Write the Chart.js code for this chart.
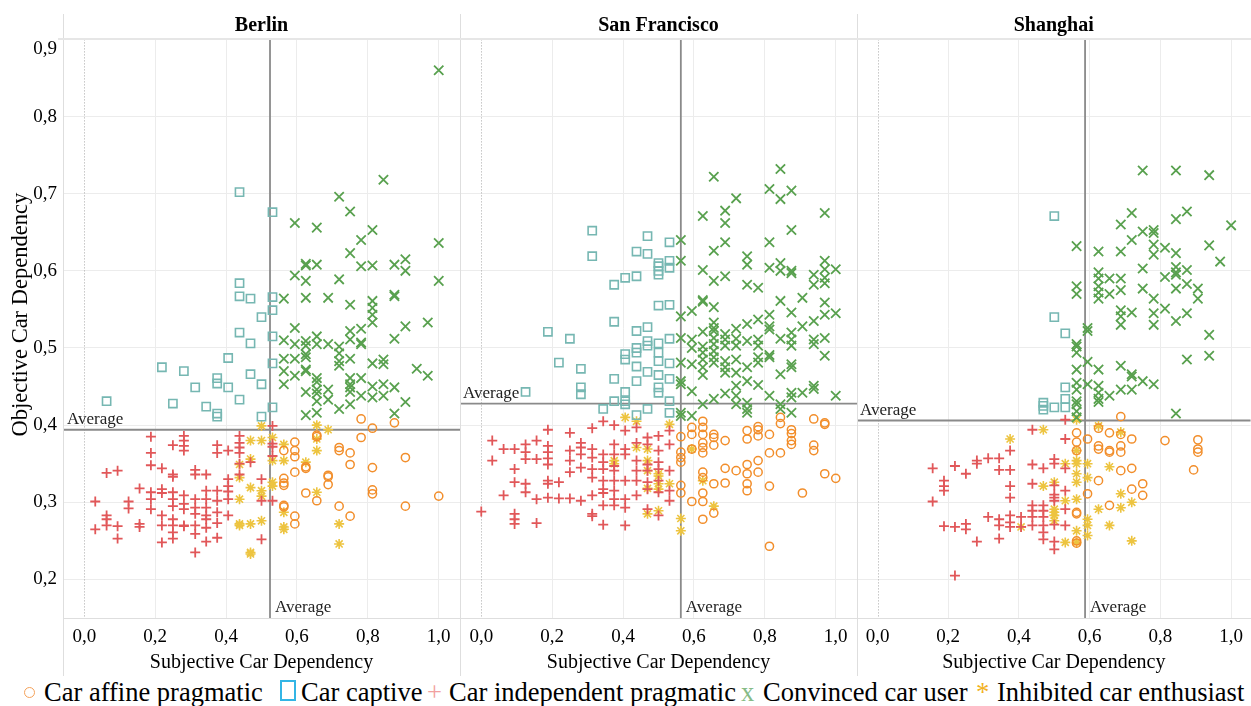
<!DOCTYPE html>
<html><head><meta charset="utf-8">
<script src="https://cdn.jsdelivr.net/npm/chart.js@4.4.1/dist/chart.umd.min.js"></script>
<style>
html,body{margin:0;padding:0;background:#fff;}
#wrap{position:relative;width:1251px;height:706px;overflow:hidden;font-family:"Liberation Serif","Times New Roman",serif;}
canvas{position:absolute;top:0;}
.vl{position:absolute;width:1px;background:#dedede;}
.hl{position:absolute;height:1px;background:#dedede;}
.lg{position:absolute;top:679px;font-size:26.5px;line-height:26px;white-space:nowrap;color:#000;}
.sym{position:absolute;}
</style></head>
<body>
<div id="wrap">
  <canvas id="c0" width="460" height="676" style="left:0px"></canvas>
  <canvas id="c1" width="397" height="676" style="left:460px"></canvas>
  <canvas id="c2" width="394" height="676" style="left:857px"></canvas>
  <div class="vl" style="left:63px;top:14px;height:662px"></div>
  <div class="vl" style="left:460px;top:14px;height:662px"></div>
  <div class="vl" style="left:857px;top:14px;height:662px"></div>
  <div class="hl" style="left:58px;top:38px;width:1193px;height:2px;background:#e6e6e6"></div>
  <div class="hl" style="left:63px;top:618px;width:1188px"></div>
  <div class="sym" style="left:24px;top:687px;width:9px;height:9px;border:1.2px solid #f5a25a;border-radius:50%"></div>
  <span class="lg" style="left:44px">Car affine pragmatic</span>
  <div class="sym" style="left:280px;top:680px;width:12px;height:17px;border:2px solid #33b5e5"></div>
  <span class="lg" style="left:301px">Car captive</span>
  <span class="lg" style="left:427px;color:#f2a0a0">+</span>
  <span class="lg" style="left:449px">Car independent pragmatic</span>
  <span class="lg" style="left:741px;color:#86bb86">x</span>
  <span class="lg" style="left:763px">Convinced car user</span>
  <span class="lg" style="left:976px;color:#f2b21e">*</span>
  <span class="lg" style="left:997px">Inhibited car enthusiast</span>
</div>
<script>
// ---------- data (x = subjective, y = objective) ----------
const cities = ['Berlin', 'San Francisco', 'Shanghai'];
const categories = ['Car affine pragmatic', 'Car captive', 'Car independent pragmatic', 'Convinced car user', 'Inhibited car enthusiast'];
const avgSubjective = [0.524, 0.563, 0.587];
const avgObjective = [0.394, 0.428, 0.406];
const xTicks = [0, 0.2, 0.4, 0.6, 0.8, 1.0];
const yTicks = [0.2, 0.3, 0.4, 0.5, 0.6, 0.7, 0.8, 0.9];

const berlinAffine = [[0.563,0.367],[0.563,0.331],[0.563,0.325],[0.563,0.322],[0.563,0.296],[0.563,0.294],[0.594,0.378],[0.594,0.367],[0.594,0.359],[0.594,0.339],[0.594,0.282],[0.594,0.272],[0.625,0.346],[0.625,0.344],[0.625,0.312],[0.656,0.387],[0.656,0.385],[0.656,0.302],[0.688,0.335],[0.688,0.333],[0.688,0.323],[0.719,0.371],[0.719,0.367],[0.719,0.295],[0.75,0.364],[0.75,0.349],[0.75,0.282],[0.781,0.408],[0.781,0.384],[0.813,0.396],[0.813,0.345],[0.813,0.316],[0.813,0.311],[0.875,0.403],[0.906,0.358],[0.906,0.295],[1.0,0.308]];
const berlinCaptive = [[0.438,0.702],[0.531,0.676],[0.438,0.584],[0.438,0.567],[0.469,0.564],[0.531,0.566],[0.531,0.549],[0.5,0.540],[0.438,0.520],[0.469,0.506],[0.531,0.515],[0.219,0.475],[0.281,0.470],[0.406,0.487],[0.531,0.480],[0.469,0.466],[0.375,0.461],[0.375,0.454],[0.313,0.449],[0.406,0.449],[0.5,0.453],[0.063,0.431],[0.25,0.428],[0.438,0.433],[0.344,0.424],[0.375,0.415],[0.375,0.411],[0.5,0.411],[0.531,0.423]];
const berlinIndependent = [[0.531,0.399],[0.188,0.385],[0.281,0.386],[0.281,0.380],[0.281,0.373],[0.281,0.367],[0.25,0.374],[0.188,0.364],[0.375,0.374],[0.375,0.364],[0.406,0.367],[0.438,0.386],[0.438,0.377],[0.438,0.371],[0.438,0.364],[0.469,0.352],[0.438,0.350],[0.531,0.376],[0.531,0.372],[0.531,0.360],[0.188,0.348],[0.219,0.344],[0.063,0.338],[0.094,0.341],[0.25,0.336],[0.25,0.333],[0.313,0.342],[0.313,0.336],[0.344,0.336],[0.406,0.330],[0.406,0.321],[0.406,0.314],[0.438,0.336],[0.5,0.330],[0.156,0.318],[0.188,0.313],[0.188,0.304],[0.188,0.291],[0.219,0.317],[0.219,0.312],[0.25,0.313],[0.25,0.304],[0.25,0.295],[0.281,0.309],[0.281,0.298],[0.281,0.291],[0.313,0.304],[0.313,0.293],[0.313,0.285],[0.344,0.315],[0.344,0.304],[0.344,0.293],[0.344,0.283],[0.375,0.315],[0.375,0.302],[0.375,0.287],[0.406,0.304],[0.031,0.301],[0.125,0.301],[0.125,0.292],[0.063,0.283],[0.063,0.278],[0.063,0.270],[0.094,0.269],[0.094,0.253],[0.031,0.265],[0.156,0.272],[0.156,0.268],[0.219,0.283],[0.219,0.270],[0.219,0.248],[0.25,0.278],[0.25,0.270],[0.25,0.261],[0.25,0.253],[0.281,0.270],[0.281,0.269],[0.313,0.270],[0.313,0.259],[0.313,0.235],[0.344,0.278],[0.344,0.267],[0.375,0.273],[0.344,0.249],[0.375,0.254],[0.406,0.283],[0.5,0.302],[0.5,0.252],[0.531,0.302]];
const berlinConvinced = [[1.0,0.860],[0.844,0.718],[0.719,0.696],[0.75,0.677],[0.594,0.662],[0.656,0.656],[0.813,0.653],[0.781,0.640],[1.0,0.636],[0.75,0.623],[0.906,0.615],[0.625,0.609],[0.625,0.607],[0.656,0.608],[0.781,0.606],[0.813,0.607],[0.875,0.608],[0.906,0.600],[0.594,0.594],[0.625,0.587],[0.719,0.589],[1.0,0.587],[0.563,0.564],[0.625,0.565],[0.688,0.565],[0.75,0.556],[0.813,0.561],[0.813,0.552],[0.813,0.543],[0.875,0.567],[0.875,0.569],[0.813,0.533],[0.969,0.533],[0.906,0.528],[0.594,0.526],[0.75,0.522],[0.781,0.525],[0.563,0.510],[0.594,0.505],[0.625,0.509],[0.625,0.503],[0.656,0.515],[0.656,0.505],[0.688,0.505],[0.719,0.502],[0.75,0.511],[0.781,0.507],[0.781,0.505],[0.875,0.512],[0.563,0.486],[0.594,0.486],[0.625,0.492],[0.625,0.488],[0.719,0.493],[0.719,0.483],[0.75,0.486],[0.813,0.480],[0.844,0.485],[0.844,0.479],[0.938,0.473],[0.969,0.464],[0.563,0.470],[0.594,0.464],[0.625,0.472],[0.625,0.470],[0.719,0.477],[0.656,0.461],[0.656,0.456],[0.75,0.461],[0.781,0.461],[0.563,0.453],[0.75,0.453],[0.625,0.443],[0.656,0.446],[0.688,0.446],[0.75,0.449],[0.75,0.443],[0.781,0.438],[0.813,0.450],[0.844,0.453],[0.875,0.449],[0.656,0.441],[0.656,0.431],[0.688,0.433],[0.719,0.421],[0.75,0.427],[0.813,0.436],[0.844,0.438],[0.906,0.430],[0.625,0.413],[0.656,0.416],[0.875,0.415]];
const berlinInhibited = [[0.5,0.399],[0.469,0.380],[0.5,0.380],[0.531,0.384],[0.531,0.354],[0.563,0.375],[0.563,0.354],[0.438,0.349],[0.438,0.332],[0.469,0.356],[0.469,0.319],[0.5,0.315],[0.5,0.308],[0.531,0.321],[0.531,0.326],[0.438,0.304],[0.438,0.272],[0.469,0.272],[0.5,0.276],[0.469,0.235],[0.469,0.233],[0.563,0.287],[0.563,0.265],[0.656,0.400],[0.656,0.382],[0.656,0.367],[0.688,0.394],[0.625,0.352],[0.656,0.313],[0.719,0.272],[0.719,0.246],[0.438,0.270],[0.563,0.268]];

const sfAffine = [[0.625,0.405],[0.594,0.397],[0.594,0.388],[0.563,0.385],[0.625,0.397],[0.625,0.388],[0.656,0.388],[0.656,0.384],[0.625,0.377],[0.625,0.371],[0.625,0.364],[0.594,0.369],[0.656,0.374],[0.688,0.380],[0.75,0.393],[0.75,0.382],[0.781,0.398],[0.781,0.394],[0.781,0.386],[0.813,0.388],[0.844,0.410],[0.844,0.402],[0.875,0.394],[0.875,0.389],[0.875,0.380],[0.875,0.375],[0.938,0.408],[0.969,0.403],[0.969,0.401],[0.938,0.374],[0.938,0.367],[0.813,0.364],[0.844,0.364],[0.781,0.354],[0.75,0.349],[0.688,0.344],[0.719,0.341],[0.75,0.337],[0.781,0.339],[0.625,0.339],[0.625,0.332],[0.563,0.365],[0.563,0.358],[0.563,0.352],[0.563,0.322],[0.563,0.312],[0.594,0.301],[0.625,0.312],[0.625,0.301],[0.625,0.278],[0.656,0.324],[0.656,0.286],[0.688,0.325],[0.75,0.324],[0.75,0.315],[0.813,0.321],[0.906,0.312],[0.969,0.337],[1.0,0.331],[0.813,0.243]];
const sfCaptive = [[0.313,0.652],[0.469,0.645],[0.531,0.637],[0.313,0.619],[0.438,0.625],[0.469,0.622],[0.5,0.610],[0.5,0.606],[0.5,0.600],[0.5,0.595],[0.531,0.613],[0.531,0.604],[0.375,0.582],[0.406,0.591],[0.438,0.593],[0.5,0.555],[0.531,0.556],[0.375,0.534],[0.188,0.521],[0.25,0.512],[0.438,0.522],[0.469,0.527],[0.469,0.509],[0.469,0.503],[0.5,0.506],[0.531,0.512],[0.438,0.500],[0.5,0.494],[0.5,0.483],[0.438,0.494],[0.406,0.492],[0.406,0.485],[0.219,0.481],[0.281,0.473],[0.438,0.476],[0.469,0.469],[0.5,0.465],[0.531,0.480],[0.531,0.460],[0.375,0.460],[0.438,0.457],[0.281,0.449],[0.281,0.440],[0.125,0.443],[0.406,0.443],[0.5,0.449],[0.5,0.442],[0.375,0.431],[0.406,0.431],[0.406,0.427],[0.531,0.431],[0.344,0.421],[0.469,0.421],[0.438,0.413],[0.531,0.416]];
const sfIndependent = [[0.344,0.405],[0.375,0.400],[0.406,0.393],[0.438,0.397],[0.313,0.396],[0.25,0.390],[0.188,0.394],[0.156,0.380],[0.125,0.375],[0.125,0.365],[0.125,0.356],[0.031,0.380],[0.031,0.354],[0.063,0.369],[0.094,0.369],[0.094,0.343],[0.094,0.326],[0.156,0.356],[0.188,0.373],[0.188,0.365],[0.188,0.357],[0.188,0.349],[0.188,0.328],[0.188,0.324],[0.219,0.326],[0.25,0.367],[0.25,0.354],[0.25,0.339],[0.281,0.377],[0.281,0.371],[0.281,0.362],[0.281,0.345],[0.313,0.369],[0.313,0.358],[0.313,0.343],[0.313,0.332],[0.344,0.362],[0.344,0.352],[0.344,0.343],[0.344,0.328],[0.344,0.312],[0.375,0.375],[0.375,0.362],[0.375,0.347],[0.375,0.341],[0.375,0.328],[0.375,0.315],[0.375,0.304],[0.375,0.296],[0.406,0.369],[0.406,0.362],[0.406,0.328],[0.406,0.304],[0.406,0.293],[0.438,0.377],[0.438,0.354],[0.438,0.341],[0.438,0.328],[0.438,0.309],[0.469,0.384],[0.469,0.375],[0.469,0.349],[0.469,0.341],[0.469,0.326],[0.469,0.317],[0.469,0.291],[0.5,0.386],[0.5,0.367],[0.5,0.352],[0.5,0.343],[0.5,0.328],[0.5,0.313],[0.5,0.283],[0.531,0.393],[0.531,0.375],[0.531,0.341],[0.531,0.315],[0.531,0.302],[0.094,0.285],[0.094,0.278],[0.094,0.272],[0.063,0.309],[0.125,0.324],[0.125,0.313],[0.156,0.304],[0.156,0.273],[0.188,0.306],[0.219,0.305],[0.25,0.305],[0.281,0.302],[0.313,0.309],[0.313,0.285],[0.313,0.282],[0.344,0.317],[0.344,0.296],[0.344,0.271],[0.406,0.270],[0.0,0.288]];
const sfConvinced = [[0.656,0.722],[0.844,0.732],[0.813,0.706],[0.844,0.693],[0.875,0.704],[0.719,0.694],[0.688,0.678],[0.688,0.662],[0.625,0.671],[0.969,0.675],[0.875,0.653],[0.563,0.640],[0.688,0.637],[0.813,0.637],[0.563,0.613],[0.625,0.601],[0.656,0.587],[0.656,0.626],[0.688,0.593],[0.75,0.619],[0.75,0.608],[0.75,0.582],[0.781,0.578],[0.813,0.604],[0.844,0.610],[0.844,0.600],[0.875,0.600],[0.875,0.597],[0.938,0.595],[0.938,0.582],[0.969,0.613],[0.969,0.602],[0.969,0.591],[0.969,0.584],[1.0,0.602],[0.625,0.562],[0.625,0.560],[0.656,0.553],[0.844,0.561],[0.906,0.565],[0.969,0.559],[0.563,0.541],[0.594,0.548],[0.781,0.537],[0.813,0.543],[0.813,0.528],[0.813,0.524],[0.875,0.546],[0.969,0.543],[1.0,0.545],[0.938,0.535],[0.75,0.531],[0.656,0.533],[0.656,0.526],[0.656,0.522],[0.719,0.525],[0.625,0.521],[0.688,0.518],[0.563,0.513],[0.594,0.511],[0.594,0.500],[0.625,0.502],[0.625,0.494],[0.656,0.513],[0.656,0.505],[0.656,0.496],[0.656,0.488],[0.656,0.481],[0.688,0.511],[0.688,0.503],[0.688,0.483],[0.688,0.475],[0.688,0.468],[0.719,0.512],[0.719,0.503],[0.719,0.485],[0.719,0.468],[0.75,0.509],[0.75,0.475],[0.75,0.457],[0.781,0.511],[0.781,0.503],[0.781,0.488],[0.781,0.481],[0.781,0.452],[0.813,0.491],[0.813,0.488],[0.844,0.512],[0.844,0.466],[0.875,0.520],[0.875,0.511],[0.875,0.503],[0.875,0.479],[0.875,0.475],[0.875,0.442],[0.875,0.436],[0.875,0.416],[0.906,0.528],[0.938,0.511],[0.938,0.505],[0.938,0.451],[0.938,0.447],[0.969,0.513],[0.969,0.490],[1.0,0.438],[0.563,0.481],[0.563,0.457],[0.563,0.453],[0.563,0.416],[0.563,0.412],[0.594,0.444],[0.594,0.412],[0.594,0.479],[0.625,0.485],[0.625,0.475],[0.625,0.465],[0.625,0.427],[0.656,0.434],[0.688,0.441],[0.719,0.451],[0.719,0.438],[0.719,0.427],[0.75,0.429],[0.75,0.421],[0.75,0.416],[0.813,0.438],[0.844,0.427],[0.844,0.421],[0.906,0.442]];
const sfInhibited = [[0.406,0.410],[0.438,0.405],[0.469,0.369],[0.469,0.354],[0.438,0.371],[0.5,0.337],[0.5,0.324],[0.5,0.317],[0.469,0.341],[0.469,0.318],[0.531,0.401],[0.531,0.324],[0.375,0.354],[0.375,0.350],[0.469,0.285],[0.5,0.289],[0.563,0.279],[0.563,0.263],[0.5,0.334],[0.594,0.369],[0.625,0.328],[0.656,0.295]];

const shAffine = [[0.688,0.411],[0.563,0.390],[0.594,0.382],[0.563,0.378],[0.563,0.367],[0.625,0.396],[0.625,0.369],[0.656,0.390],[0.656,0.367],[0.688,0.388],[0.688,0.373],[0.688,0.365],[0.719,0.382],[0.688,0.341],[0.719,0.344],[0.625,0.328],[0.594,0.311],[0.563,0.287],[0.563,0.285],[0.563,0.250],[0.563,0.247],[0.656,0.296],[0.719,0.317],[0.75,0.324],[0.75,0.309],[0.813,0.380],[0.906,0.381],[0.906,0.369],[0.906,0.365],[0.894,0.342],[0.625,0.373],[0.656,0.365]];
const shCaptive = [[0.5,0.671],[0.5,0.540],[0.531,0.519],[0.531,0.449],[0.531,0.434],[0.531,0.423],[0.5,0.423],[0.469,0.429],[0.469,0.425],[0.469,0.420]];
const shIndependent = [[0.531,0.407],[0.438,0.394],[0.531,0.382],[0.375,0.367],[0.281,0.354],[0.281,0.350],[0.313,0.357],[0.344,0.357],[0.25,0.337],[0.344,0.342],[0.375,0.342],[0.438,0.349],[0.469,0.344],[0.5,0.356],[0.5,0.350],[0.531,0.344],[0.375,0.321],[0.375,0.306],[0.438,0.324],[0.5,0.322],[0.5,0.310],[0.5,0.306],[0.5,0.302],[0.531,0.315],[0.438,0.296],[0.438,0.289],[0.438,0.281],[0.469,0.296],[0.469,0.289],[0.469,0.281],[0.469,0.270],[0.469,0.261],[0.469,0.252],[0.531,0.291],[0.531,0.270],[0.313,0.281],[0.344,0.278],[0.375,0.283],[0.375,0.274],[0.375,0.268],[0.406,0.281],[0.406,0.268],[0.438,0.270],[0.25,0.272],[0.25,0.265],[0.344,0.270],[0.344,0.253],[0.281,0.249],[0.5,0.271],[0.5,0.249],[0.5,0.239],[0.156,0.344],[0.219,0.347],[0.188,0.328],[0.188,0.321],[0.188,0.315],[0.156,0.301],[0.188,0.269],[0.219,0.268],[0.219,0.205]];
const shConvinced = [[0.75,0.730],[0.844,0.730],[0.938,0.724],[0.719,0.675],[0.875,0.677],[0.844,0.667],[0.688,0.660],[1.0,0.659],[0.75,0.651],[0.781,0.653],[0.781,0.649],[0.781,0.634],[0.781,0.621],[0.719,0.640],[0.813,0.630],[0.844,0.623],[0.563,0.632],[0.625,0.625],[0.688,0.625],[0.938,0.633],[0.969,0.612],[0.75,0.603],[0.844,0.605],[0.844,0.598],[0.875,0.601],[0.625,0.598],[0.625,0.590],[0.625,0.580],[0.625,0.572],[0.625,0.564],[0.656,0.590],[0.656,0.570],[0.688,0.590],[0.688,0.575],[0.813,0.592],[0.844,0.595],[0.875,0.583],[0.75,0.577],[0.781,0.564],[0.906,0.577],[0.906,0.564],[0.844,0.577],[0.563,0.580],[0.563,0.570],[0.813,0.551],[0.688,0.549],[0.688,0.541],[0.688,0.530],[0.719,0.546],[0.781,0.545],[0.781,0.530],[0.844,0.535],[0.875,0.545],[0.938,0.517],[0.594,0.526],[0.594,0.522],[0.563,0.505],[0.563,0.502],[0.563,0.494],[0.594,0.482],[0.625,0.472],[0.688,0.477],[0.719,0.466],[0.719,0.463],[0.75,0.457],[0.781,0.453],[0.875,0.485],[0.938,0.490],[0.563,0.472],[0.563,0.455],[0.563,0.446],[0.563,0.431],[0.563,0.427],[0.563,0.418],[0.563,0.410],[0.594,0.453],[0.625,0.451],[0.625,0.442],[0.625,0.434],[0.625,0.430],[0.656,0.438],[0.688,0.446],[0.719,0.446],[0.844,0.415]];
const shInhibited = [[0.469,0.394],[0.375,0.382],[0.563,0.407],[0.625,0.399],[0.688,0.391],[0.563,0.367],[0.563,0.354],[0.563,0.350],[0.563,0.337],[0.563,0.326],[0.531,0.350],[0.594,0.350],[0.594,0.332],[0.656,0.346],[0.469,0.321],[0.5,0.326],[0.531,0.302],[0.563,0.304],[0.5,0.291],[0.5,0.287],[0.5,0.283],[0.5,0.276],[0.594,0.278],[0.594,0.270],[0.594,0.257],[0.563,0.263],[0.531,0.248],[0.563,0.248],[0.625,0.291],[0.656,0.270],[0.688,0.311],[0.688,0.293],[0.719,0.300],[0.719,0.250],[0.406,0.268]];

const cityData = [
  [berlinAffine, berlinCaptive, berlinIndependent, berlinConvinced, berlinInhibited],
  [sfAffine, sfCaptive, sfIndependent, sfConvinced, sfInhibited],
  [shAffine, shCaptive, shIndependent, shConvinced, shInhibited]
];

// ---------- styles ----------
const SERIF = '"Liberation Serif", "Times New Roman", serif';
const markStyles = [
  {pointStyle:'circle',   color:'#f28e2b', radius:4.1, width:1.5},
  {pointStyle:'rect',     color:'#76b7b2', radius:5.8, width:1.6},
  {pointStyle:'cross',    color:'#e15759', radius:5.0, width:1.8},
  {pointStyle:'crossRot', color:'#59a14f', radius:6.6, width:1.8},
  {pointStyle:'star',     color:'#edc440', radius:5.0, width:1.6}
];
const panelRanges = [[-0.06, 1.06], [-0.06, 1.06], [-0.058, 1.055]];
const fmt = v => (Math.round(v * 10) / 10).toFixed(1).replace('.', ',');
// top tick label sits just below the pane edge, as in the original layout
const yLabel = v => Math.abs(v - 0.9) < 1e-9 ? ['', fmt(v)] : fmt(v);

const avgPlugin = {
  id: 'avg',
  beforeDatasetsDraw(chart, args, opts) {
    const {ctx, chartArea: a, scales: {x, y}} = chart;
    ctx.save();
    const x0 = Math.round(x.getPixelForValue(0)) + 0.5;
    ctx.strokeStyle = '#a8a8a8'; ctx.lineWidth = 1; ctx.setLineDash([1, 2]);
    ctx.beginPath(); ctx.moveTo(x0, a.top); ctx.lineTo(x0, a.bottom); ctx.stroke();
    ctx.setLineDash([]);
    const ax = x.getPixelForValue(opts.ax), ay = y.getPixelForValue(opts.ay);
    ctx.strokeStyle = '#8a8a8a'; ctx.lineWidth = 1.8;
    ctx.beginPath(); ctx.moveTo(ax, a.top); ctx.lineTo(ax, a.bottom); ctx.stroke();
    ctx.beginPath(); ctx.moveTo(a.left, ay); ctx.lineTo(a.right, ay); ctx.stroke();
    ctx.restore();
  },
  afterDatasetsDraw(chart, args, opts) {
    const {ctx, chartArea: a, scales: {x, y}} = chart;
    const ax = x.getPixelForValue(opts.ax), ay = y.getPixelForValue(opts.ay);
    ctx.save();
    ctx.font = '17px ' + SERIF; ctx.fillStyle = '#222'; ctx.textBaseline = 'alphabetic'; ctx.textAlign = 'left';
    ctx.fillText('Average', a.left + opts.lx, ay - 6);
    ctx.fillText('Average', ax + 5, a.bottom - 6);
    ctx.restore();
  }
};

function makePanel(i) {
  const showY = i === 0;
  const datasets = cityData[i].map((pts, j) => ({
    label: categories[j],
    data: pts.map(p => ({x: p[0], y: p[1]})),
    pointStyle: markStyles[j].pointStyle,
    pointRadius: markStyles[j].radius,
    pointBorderColor: markStyles[j].color,
    pointBackgroundColor: 'rgba(0,0,0,0)',
    pointBorderWidth: markStyles[j].width,
    pointHoverRadius: markStyles[j].radius,
    showLine: false
  }));
  new Chart(document.getElementById('c' + i), {
    type: 'scatter',
    data: {datasets},
    options: {
      responsive: false, animation: false, devicePixelRatio: 1,
      layout: {padding: 0, autoPadding: false},
      events: [],
      plugins: {
        legend: {display: false}, tooltip: {enabled: false},
        title: {display: true, text: cities[i], fullSize: false, color: '#000',
          font: {family: SERIF, size: 20, weight: 'bold'}, padding: {top: 14, bottom: 1.4}},
        avg: {ax: avgSubjective[i], ay: avgObjective[i], lx: i === 0 ? 4 : 3}
      },
      scales: {
        x: {
          type: 'linear', min: panelRanges[i][0], max: panelRanges[i][1],
          afterBuildTicks: s => { s.ticks = xTicks.map(v => ({value: v})); },
          ticks: {callback: v => fmt(v), color: '#000', font: {family: SERIF, size: 19}, padding: 8, maxRotation: 0, autoSkip: false},
          grid: {color: c => (c.tick && Math.abs(c.tick.value) < 1e-9) ? 'rgba(0,0,0,0)' : '#ececec', drawTicks: false, lineWidth: 1},
          border: {display: false},
          title: {display: true, text: 'Subjective Car Dependency', color: '#000', font: {family: SERIF, size: 20}, padding: {top: 0, bottom: 1}},
          afterFit: s => { s.height = 58; }
        },
        y: {
          type: 'linear', min: 0.15, max: 0.9,
          afterBuildTicks: s => { s.ticks = yTicks.map(v => ({value: v})); },
          ticks: {display: showY, callback: v => yLabel(v), color: '#000', font: {family: SERIF, size: 19, lineHeight: 1.0}, padding: 6, autoSkip: false},
          grid: {color: '#ececec', drawTicks: false, lineWidth: 1},
          border: {display: false},
          title: {display: showY, text: '     Objective Car Dependency', color: '#000', font: {family: SERIF, size: 22.5}, padding: {top: 8, bottom: 0}},
          afterFit: s => { s.width = showY ? 63 : 0; }
        }
      }
    },
    plugins: [avgPlugin]
  });
}
[0, 1, 2].forEach(makePanel);
</script>
</body></html>
